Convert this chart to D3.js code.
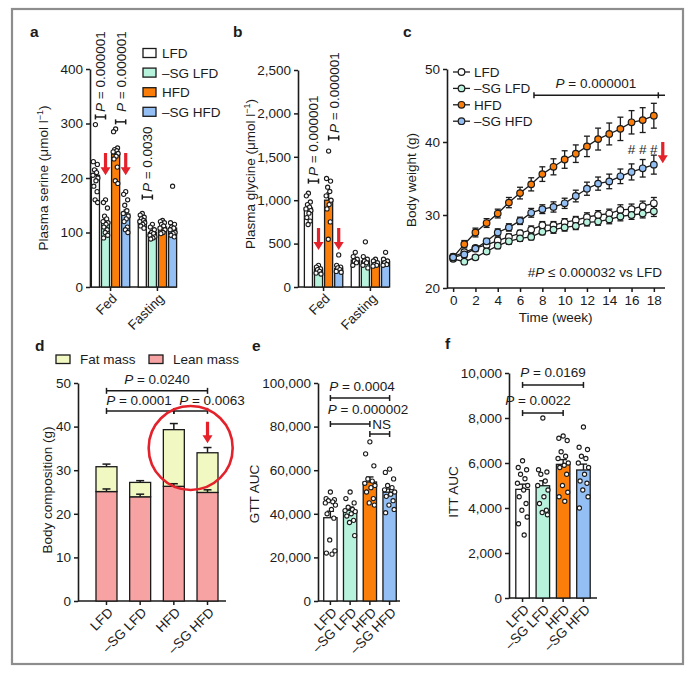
<!DOCTYPE html>
<html><head><meta charset="utf-8">
<script src="https://cdn.jsdelivr.net/npm/d3@7"></script>
<style>
body{margin:0;background:#fff}
svg{display:block}
</style></head><body>
<svg id="fig" width="697" height="679"></svg>
<script>
// ---------------- DATA ----------------
const groups4 = ["LFD", "–SG LFD", "HFD", "–SG HFD"];
const groupColors = ["#ffffff", "#b7f2dd", "#fb7e0a", "#93bff5"];

// a: plasma serine
const serineConds = ["Fed", "Fasting"];
const serineFed = [205, 119, 244, 134];
const serineFasting = [123, 100, 110, 108];
const serineFedSem = [11, 6, 9, 7];
const serineFastingSem = [3, 2, 2, 6];
const serineFedDots = [
  [298, 230, 225, 215, 210, 205, 200, 195, 185, 175, 160, 155],
  [160, 155, 145, 130, 125, 120, 118, 115, 110, 105, 100, 95, 90],
  [290, 285, 255, 252, 250, 248, 245, 240, 235, 220, 195, 190],
  [175, 170, 160, 150, 140, 135, 130, 125, 120, 110, 105, 100]
];
const serineFastingDots = [
  [135, 132, 128, 125, 122, 120, 118, 115, 112, 108],
  [115, 110, 105, 100, 98, 95, 92, 90, 88],
  [122, 120, 118, 115, 112, 108, 105, 100, 98],
  [185, 118, 115, 110, 108, 105, 100, 98, 95, 92]
];
const serineTicks = [0, 100, 200, 300, 400];

// b: plasma glycine
const glycineFed = [910, 205, 1000, 215];
const glycineFasting = [310, 300, 265, 290];
const glycineFedSem = [35, 12, 85, 22];
const glycineFastingSem = [15, 25, 8, 15];
const glycineFedDots = [
  [1080, 1050, 980, 950, 920, 900, 880, 850, 800, 760, 720],
  [250, 230, 210, 200, 180, 160, 150],
  [1566, 1250, 1220, 1150, 1100, 1050, 1000, 950, 900, 750, 550],
  [370, 250, 230, 220, 200, 180, 170]
];
const glycineFastingDots = [
  [400, 350, 320, 300, 280, 250],
  [520, 350, 320, 300, 280, 250, 220],
  [320, 300, 280, 260, 250, 240],
  [400, 320, 300, 280, 260, 250]
];
const glycineTicks = [0, 500, 1000, 1500, 2000, 2500];

// c: body weight
const weeks = [0,1,2,3,4,5,6,7,8,9,10,11,12,13,14,15,16,17,18];
const weightLFD   = [24.3,24.9,25.5,25.9,26.5,27.0,27.5,28.0,28.6,28.6,29.0,29.3,29.7,30.0,30.2,30.7,30.8,31.2,31.6];
const weightSgLFD = [24.0,23.6,24.2,25.0,25.8,26.4,26.8,27.0,27.7,28.0,28.3,28.5,29.0,29.1,29.4,29.8,30.0,30.2,30.5];
const weightHFD   = [24.2,26.0,27.6,28.9,30.2,31.7,33.0,34.2,35.6,36.6,37.6,38.4,39.4,40.4,41.1,41.8,42.7,43.0,43.6];
const weightSgHFD = [24.2,24.6,25.4,26.4,27.6,28.3,29.2,30.3,30.8,31.1,31.6,32.6,33.6,34.3,34.6,35.3,35.9,36.4,36.9];
const semLFD   = [0.3,0.3,0.3,0.4,0.4,0.4,0.4,0.5,0.5,0.5,0.5,0.5,0.6,0.6,0.6,0.7,0.7,0.7,0.8];
const semSgLFD = [0.3,0.3,0.3,0.3,0.4,0.4,0.4,0.4,0.4,0.5,0.5,0.5,0.5,0.5,0.6,0.6,0.6,0.6,0.7];
const semHFD   = [0.4,0.5,0.6,0.6,0.6,0.7,0.8,0.9,1.0,1.1,1.2,1.2,1.4,1.5,1.5,1.6,1.6,1.7,1.7];
const semSgHFD = [0.3,0.4,0.4,0.4,0.5,0.5,0.5,0.6,0.6,0.7,0.7,0.8,0.9,0.9,1.0,1.0,1.1,1.2,1.3];
const weightTicksY = [20, 30, 40, 50];
const weightTicksX = [0, 2, 4, 6, 8, 10, 12, 14, 16, 18];

// d: body composition
const leanMass = [25.1, 23.9, 26.3, 24.9];
const fatMass = [5.7, 3.3, 13.0, 9.1];
const leanSem = [0.6, 0.6, 0.6, 0.6];
const totalSem = [0.6, 0.4, 1.4, 1.2];
const compTicks = [0, 10, 20, 30, 40, 50];

// e: GTT AUC
const gttMean = [38200, 41600, 54600, 49900];
const gttSem = [3000, 1500, 2300, 1500];
const gttDots = [
  [50000, 47000, 46500, 46000, 45500, 45000, 44000, 42000, 40000, 38000, 28000, 23000, 22000, 21500],
  [50000, 47000, 45000, 43000, 42000, 41500, 41000, 40000, 39000, 37000, 36000, 30000],
  [73000, 67500, 62000, 56000, 55000, 54000, 53000, 52000, 50000, 47000, 45000, 44000],
  [60500, 59000, 56000, 53000, 52000, 51000, 50000, 49000, 48000, 46000, 44000, 42000, 40500]
];
const gttTicks = [0, 20000, 40000, 60000, 80000, 100000];

// f: ITT AUC
const ittMean = [4830, 4990, 5940, 5690];
const ittSem = [230, 220, 210, 260];
const ittDots = [
  [6100, 5800, 5700, 5500, 5300, 5100, 5000, 4800, 4500, 4200, 3900, 3600, 3300, 2800],
  [8000, 5700, 5600, 5500, 5200, 5000, 4800, 4500, 4200, 3900, 3800, 3700],
  [7200, 7100, 7000, 6500, 6300, 6200, 6000, 5900, 5800, 5500, 5000, 4700, 4500, 4300],
  [7600, 6700, 6600, 6300, 6200, 6000, 5800, 5500, 5200, 5100, 4800, 4500, 4000]
];
const ittTicks = [0, 2000, 4000, 6000, 8000, 10000];

// ---------------- STYLE / HELPERS ----------------
const FF = "'Liberation Sans', Arial, Helvetica, sans-serif";
const FS = 13.5;
const INK = "#1b1b1b";
const RED = "#e3222b";
const jit = [0, -0.32, 0.3, -0.15, 0.18, -0.38, 0.38, 0.08, -0.25, 0.26, -0.05, 0.34, -0.3, 0.12, -0.2];
const fmtComma = d3.format(",");

const svg = d3.select("#fig").attr("font-family", FF).attr("fill", INK);

svg.append("rect").attr("x", 12).attr("y", 9).attr("width", 671).attr("height", 655)
  .attr("fill", "none").attr("stroke", "#8d8d8d").attr("stroke-width", 2.2);

function letter(t, x, y) {
  svg.append("text").attr("x", x).attr("y", y).attr("font-size", 15.5).attr("font-weight", "bold").text(t);
}
function yAxis(y, x, ticks, fmt) {
  const ax = svg.append("g").attr("transform", `translate(${x},0)`)
    .call(d3.axisLeft(y).tickValues(ticks).tickSize(4).tickSizeOuter(0).tickPadding(3).tickFormat(fmt));
  ax.attr("font-size", FS).attr("font-family", FF);
  ax.select(".domain").attr("stroke", INK).attr("stroke-width", 1.6);
  ax.selectAll(".tick line").attr("stroke", INK).attr("stroke-width", 1.5);
  ax.selectAll(".tick text").attr("fill", INK);
  return ax;
}
function xLine(x0, x1, y0) {
  svg.append("line").attr("x1", x0).attr("x2", x1).attr("y1", y0).attr("y2", y0)
    .attr("stroke", INK).attr("stroke-width", 1.6);
}
function xTick(x, y0) {
  svg.append("line").attr("x1", x).attr("x2", x).attr("y1", y0).attr("y2", y0 + 4)
    .attr("stroke", INK).attr("stroke-width", 1.5);
}
function rotLabel(text, x, y0) {
  svg.append("text").attr("transform", `translate(${x + 4},${y0 + 9}) rotate(-45)`)
    .attr("text-anchor", "end").attr("dy", "0.35em").attr("font-size", FS).text(text);
}
function yTitle(x, yc, parts) {
  const t = svg.append("text").attr("transform", `translate(${x},${yc}) rotate(-90)`)
    .attr("text-anchor", "middle").attr("font-size", FS);
  parts(t);
}
function bar(cx, bw, y, mean, sem, dots, color) {
  svg.append("rect").attr("x", cx - bw / 2).attr("y", y(mean)).attr("width", bw)
    .attr("height", y(0) - y(mean)).attr("fill", color).attr("stroke", INK).attr("stroke-width", 1.3);
  const cw = Math.max(4, bw * 0.55);
  svg.append("line").attr("x1", cx).attr("x2", cx).attr("y1", y(mean)).attr("y2", y(mean + sem))
    .attr("stroke", INK).attr("stroke-width", 1.4);
  svg.append("line").attr("x1", cx - cw / 2).attr("x2", cx + cw / 2).attr("y1", y(mean + sem)).attr("y2", y(mean + sem))
    .attr("stroke", INK).attr("stroke-width", 1.4);
  if (dots) {
    const spread = bw < 10 ? bw * 0.8 : bw;
    svg.append("g").selectAll("circle").data(dots).join("circle")
      .attr("cx", (d, i) => cx + jit[i % jit.length] * spread)
      .attr("cy", d => y(d)).attr("r", 2.1)
      .attr("fill", "#fff").attr("stroke", INK).attr("stroke-width", 1.1);
  }
}
function bracket(x1, x2, yy, capR) {
  const c = capR || 3;
  const g = svg.append("g").attr("stroke", INK).attr("stroke-width", 1.5);
  g.append("line").attr("x1", x1).attr("x2", x2).attr("y1", yy).attr("y2", yy);
  g.append("line").attr("x1", x1).attr("x2", x1).attr("y1", yy - c).attr("y2", yy + c);
  g.append("line").attr("x1", x2).attr("x2", x2).attr("y1", yy - c).attr("y2", yy + c);
}
function pText(el, value) {
  el.append("tspan").attr("font-style", "italic").text("P");
  el.append("tspan").text(" = " + value);
}
function rotP(cx, ybottom, value) {
  const t = svg.append("text").attr("transform", `translate(${cx + 5},${ybottom}) rotate(-90)`)
    .attr("font-size", FS);
  pText(t, value);
}
function hP(cx, yb, value) {
  const t = svg.append("text").attr("x", cx).attr("y", yb).attr("text-anchor", "middle").attr("font-size", FS);
  pText(t, value);
}
function arrow(x, y1, y2) {
  svg.append("path")
    .attr("d", `M${x - 1.6},${y1} L${x + 1.6},${y1} L${x + 1.6},${y2 - 8} L${x + 5},${y2 - 8} L${x},${y2} L${x - 5},${y2 - 8} L${x - 1.6},${y2 - 8} Z`)
    .attr("fill", RED);
}
function unitTitle(t, name) {
  t.append("tspan").text(name + " (μmol l");
  t.append("tspan").attr("font-size", 9).attr("dy", -5).text("−1");
  t.append("tspan").attr("dy", 5).text(")");
}

// ---------------- PANEL a ----------------
letter("a", 30, 37);
(function () {
  const y = d3.scaleLinear().domain([0, 400]).range([287, 69]);
  const xo = d3.scaleBand().domain(serineConds).range([89, 179]).paddingInner(0.16).paddingOuter(0.04);
  const xi = d3.scaleBand().domain(groups4).range([0, xo.bandwidth()]).paddingInner(0.2).paddingOuter(0.05);
  const bw = xi.bandwidth();
  const cx = (c, g) => xo(c) + xi(g) + bw / 2;
  yAxis(y, 90, serineTicks, d3.format("d"));
  xLine(90, 177, 287);
  const means = [serineFed, serineFasting], sems = [serineFedSem, serineFastingSem], dots = [serineFedDots, serineFastingDots];
  serineConds.forEach((c, ci) => {
    groups4.forEach((g, gi) => bar(cx(c, g), bw, y, means[ci][gi], sems[ci][gi], dots[ci][gi], groupColors[gi]));
    xTick(xo(c) + xo.bandwidth() / 2, 287);
    rotLabel(c, xo(c) + xo.bandwidth() / 2, 287);
  });
  const b1 = [cx("Fed", groups4[0]), cx("Fed", groups4[1])];
  bracket(b1[0], b1[1], y(312), 2.5);
  rotP((b1[0] + b1[1]) / 2, y(312) - 5, "0.000001");
  const b2 = [cx("Fed", groups4[2]), cx("Fed", groups4[3])];
  bracket(b2[0], b2[1], y(303), 2.5);
  rotP((b2[0] + b2[1]) / 2, y(312) - 5, "0.000001");
  const b3 = [cx("Fasting", groups4[0]), cx("Fasting", groups4[1])];
  bracket(b3[0], b3[1], y(165), 2.5);
  rotP((b3[0] + b3[1]) / 2, y(165) - 5, "0.0030");
  arrow(cx("Fed", groups4[1]), y(246), y(205));
  arrow(cx("Fed", groups4[3]), y(246), y(205));
  yTitle(48, 178, t => unitTitle(t, "Plasma serine"));
  groups4.forEach((g, i) => {
    const ly = 53 + i * 19.6;
    svg.append("rect").attr("x", 143).attr("y", ly - 4.5).attr("width", 13).attr("height", 9)
      .attr("fill", groupColors[i]).attr("stroke", INK).attr("stroke-width", 1.3);
    svg.append("text").attr("x", 162).attr("y", ly + 5).attr("font-size", FS).text(g);
  });
})();

// ---------------- PANEL b ----------------
letter("b", 233, 37);
(function () {
  const y = d3.scaleLinear().domain([0, 2500]).range([287, 70]);
  const xo = d3.scaleBand().domain(serineConds).range([302, 392]).paddingInner(0.16).paddingOuter(0.04);
  const xi = d3.scaleBand().domain(groups4).range([0, xo.bandwidth()]).paddingInner(0.2).paddingOuter(0.05);
  const bw = xi.bandwidth();
  const cx = (c, g) => xo(c) + xi(g) + bw / 2;
  yAxis(y, 298, glycineTicks, fmtComma);
  xLine(298, 389, 287);
  const means = [glycineFed, glycineFasting], sems = [glycineFedSem, glycineFastingSem], dots = [glycineFedDots, glycineFastingDots];
  serineConds.forEach((c, ci) => {
    groups4.forEach((g, gi) => bar(cx(c, g), bw, y, means[ci][gi], sems[ci][gi], dots[ci][gi], groupColors[gi]));
    xTick(xo(c) + xo.bandwidth() / 2, 287);
    rotLabel(c, xo(c) + xo.bandwidth() / 2, 287);
  });
  const b1 = [cx("Fed", groups4[0]), cx("Fed", groups4[1])];
  bracket(b1[0], b1[1], y(1220), 2.5);
  rotP((b1[0] + b1[1]) / 2, y(1220) - 5, "0.000001");
  const b2 = [cx("Fed", groups4[2]), cx("Fed", groups4[3])];
  bracket(b2[0], b2[1], y(1717), 2.5);
  rotP((b2[0] + b2[1]) / 2, y(1717) - 5, "0.000001");
  arrow(cx("Fed", groups4[1]), y(680), y(425));
  arrow(cx("Fed", groups4[3]), y(680), y(425));
  yTitle(255, 174, t => unitTitle(t, "Plasma glycine"));
})();

// ---------------- PANEL c ----------------
letter("c", 403, 37);
(function () {
  const x = d3.scaleLinear().domain([-0.55, 19]).range([447, 665]);
  const y = d3.scaleLinear().domain([20, 50]).range([288, 69]);
  yAxis(y, 447, weightTicksY, d3.format("d"));
  xLine(447, 665, 288);
  const ax = svg.append("g").attr("transform", "translate(0,288)")
    .call(d3.axisBottom(x).tickValues(weightTicksX).tickSize(4).tickPadding(3).tickFormat(d3.format("d")));
  ax.attr("font-size", FS).attr("font-family", FF);
  ax.select(".domain").remove();
  ax.selectAll(".tick line").attr("stroke", INK).attr("stroke-width", 1.5);
  ax.selectAll(".tick text").attr("fill", INK);
  svg.append("text").attr("x", x(9.2)).attr("y", 322).attr("text-anchor", "middle").attr("font-size", FS).text("Time (week)");
  yTitle(416, 180, t => t.text("Body weight (g)"));

  const series = [
    { v: weightLFD, e: semLFD, c: groupColors[0] },
    { v: weightSgLFD, e: semSgLFD, c: groupColors[1] },
    { v: weightHFD, e: semHFD, c: groupColors[2] },
    { v: weightSgHFD, e: semSgHFD, c: groupColors[3] }
  ];
  const line = d3.line().x((d, i) => x(weeks[i])).y(d => y(d));
  series.forEach(s => {
    svg.append("path").attr("d", line(s.v)).attr("fill", "none").attr("stroke", INK).attr("stroke-width", 1.3);
    const g = svg.append("g").attr("stroke", INK).attr("stroke-width", 1.3);
    s.v.forEach((v, i) => {
      const xx = x(weeks[i]);
      g.append("line").attr("x1", xx).attr("x2", xx).attr("y1", y(v - s.e[i])).attr("y2", y(v + s.e[i]));
      g.append("line").attr("x1", xx - 3).attr("x2", xx + 3).attr("y1", y(v - s.e[i])).attr("y2", y(v - s.e[i]));
      g.append("line").attr("x1", xx - 3).attr("x2", xx + 3).attr("y1", y(v + s.e[i])).attr("y2", y(v + s.e[i]));
    });
  });
  series.forEach(s => {
    svg.append("g").selectAll("circle").data(s.v).join("circle")
      .attr("cx", (d, i) => x(weeks[i])).attr("cy", d => y(d)).attr("r", 3.3)
      .attr("fill", s.c).attr("stroke", INK).attr("stroke-width", 1.2);
  });
  groups4.forEach((g, i) => {
    const ly = 72 + i * 16.4;
    svg.append("line").attr("x1", 453).attr("x2", 470).attr("y1", ly).attr("y2", ly).attr("stroke", INK).attr("stroke-width", 1.3);
    svg.append("circle").attr("cx", 461.5).attr("cy", ly).attr("r", 3.3).attr("fill", groupColors[i]).attr("stroke", INK).attr("stroke-width", 1.2);
    svg.append("text").attr("x", 474).attr("y", ly + 5).attr("font-size", FS).text(g);
  });
  const by = y(46.4);
  const bg = svg.append("g").attr("stroke", INK).attr("stroke-width", 1.5);
  bg.append("line").attr("x1", x(7.25)).attr("x2", x(19)).attr("y1", by).attr("y2", by);
  bg.append("line").attr("x1", x(7.25)).attr("x2", x(7.25)).attr("y1", by - 3).attr("y2", by + 3);
  bg.append("line").attr("x1", x(18.4)).attr("x2", x(18.4)).attr("y1", by - 3).attr("y2", by + 3);
  hP(x(12.8), by - 7, "0.000001");
  [16, 17, 18].forEach(w => svg.append("text").attr("x", x(w)).attr("y", y(38.3)).attr("text-anchor", "middle").attr("font-size", FS).text("#"));
  arrow(x(18.8), y(40.0), y(37.1));
  const note = svg.append("text").attr("x", 662).attr("y", 277).attr("text-anchor", "end").attr("font-size", FS);
  note.append("tspan").text("#");
  note.append("tspan").attr("font-style", "italic").text("P");
  note.append("tspan").text(" ≤ 0.000032 vs LFD");
})();

// ---------------- PANEL d ----------------
letter("d", 35, 351);
(function () {
  const y = d3.scaleLinear().domain([0, 50]).range([601, 383]);
  const x = d3.scaleBand().domain(groups4).range([80, 234]).paddingInner(0.377).paddingOuter(0.475);
  const bw = x.bandwidth();
  const cx = g => x(g) + bw / 2;
  yAxis(y, 78, compTicks, d3.format("d"));
  xLine(78, 226, 601);
  const LEAN = "#f8a3a3", FAT = "#f1f8c2";
  groups4.forEach((g, i) => {
    const top = leanMass[i] + fatMass[i];
    svg.append("rect").attr("x", cx(g) - bw / 2).attr("y", y(leanMass[i])).attr("width", bw)
      .attr("height", y(0) - y(leanMass[i])).attr("fill", LEAN).attr("stroke", INK).attr("stroke-width", 1.3);
    svg.append("rect").attr("x", cx(g) - bw / 2).attr("y", y(top)).attr("width", bw)
      .attr("height", y(leanMass[i]) - y(top)).attr("fill", FAT).attr("stroke", INK).attr("stroke-width", 1.3);
    const eg = svg.append("g").attr("stroke", INK).attr("stroke-width", 1.5);
    [[leanMass[i], leanSem[i]], [top, totalSem[i]]].forEach(([m, s]) => {
      eg.append("line").attr("x1", cx(g)).attr("x2", cx(g)).attr("y1", y(m)).attr("y2", y(m + s));
      eg.append("line").attr("x1", cx(g) - 4).attr("x2", cx(g) + 4).attr("y1", y(m + s)).attr("y2", y(m + s));
    });
    xTick(cx(g), 601);
    rotLabel(g, cx(g), 601);
  });
  yTitle(52, 490, t => t.text("Body composition (g)"));
  [["Fat mass", FAT, 56], ["Lean mass", LEAN, 149]].forEach(([t, c, lx]) => {
    svg.append("rect").attr("x", lx).attr("y", 355).attr("width", 14).attr("height", 8.5)
      .attr("fill", c).attr("stroke", INK).attr("stroke-width", 1.3);
    svg.append("text").attr("x", lx + 24).attr("y", 364).attr("font-size", FS).text(t);
  });
  bracket(cx(groups4[0]), cx(groups4[3]), y(48.2));
  hP((cx(groups4[0]) + cx(groups4[3])) / 2, y(48.2) - 7, "0.0240");
  bracket(cx(groups4[0]), cx(groups4[2]), y(43.6));
  bracket(cx(groups4[2]), cx(groups4[3]), y(43.6));
  hP(139, y(43.6) - 6, "0.0001");
  hP(212, y(43.6) - 6, "0.0063");
  svg.append("circle").attr("cx", (cx(groups4[2]) + cx(groups4[3])) / 2).attr("cy", y(35.1)).attr("r", 42)
    .attr("fill", "none").attr("stroke", RED).attr("stroke-width", 2.6);
  arrow(cx(groups4[3]), y(41.1), y(36.2));
})();

// ---------------- PANEL e ----------------
letter("e", 252, 351);
(function () {
  const y = d3.scaleLinear().domain([0, 100000]).range([601, 383]);
  const x = d3.scaleBand().domain(groups4).range([318, 402]).paddingInner(0.325).paddingOuter(0.29);
  const bw = x.bandwidth();
  const cx = g => x(g) + bw / 2;
  yAxis(y, 318, gttTicks, fmtComma);
  xLine(318, 400, 601);
  groups4.forEach((g, i) => {
    bar(cx(g), bw, y, gttMean[i], gttSem[i], gttDots[i], groupColors[i]);
    xTick(cx(g), 601);
    rotLabel(g, cx(g), 601);
  });
  yTitle(259, 494, t => t.text("GTT AUC"));
  bracket(cx(groups4[0]), cx(groups4[3]), y(93100));
  hP(362, y(93100) - 7, "0.0004");
  bracket(cx(groups4[0]), cx(groups4[2]), y(81200));
  hP(368, y(81200) - 10, "0.000002");
  bracket(cx(groups4[2]), cx(groups4[3]), y(76600));
  svg.append("text").attr("x", cx(groups4[3]) - 8).attr("y", y(76600) - 5).attr("text-anchor", "middle").attr("font-size", FS).text("NS");
})();

// ---------------- PANEL f ----------------
letter("f", 445, 349);
(function () {
  const y = d3.scaleLinear().domain([0, 10000]).range([598, 373]);
  const x = d3.scaleBand().domain(groups4).range([509, 597]).paddingInner(0.335).paddingOuter(0.335);
  const bw = x.bandwidth();
  const cx = g => x(g) + bw / 2;
  yAxis(y, 509, ittTicks, fmtComma);
  xLine(509, 597, 598);
  groups4.forEach((g, i) => {
    bar(cx(g), bw, y, ittMean[i], ittSem[i], ittDots[i], groupColors[i]);
    xTick(cx(g), 598);
    rotLabel(g, cx(g), 598);
  });
  yTitle(458, 492, t => t.text("ITT AUC"));
  bracket(cx(groups4[0]), cx(groups4[3]), y(9470));
  hP(553, y(9470) - 8, "0.0169");
  bracket(cx(groups4[0]), cx(groups4[2]), y(8220));
  hP(538, y(8220) - 8, "0.0022");
})();
</script>
</body></html>
